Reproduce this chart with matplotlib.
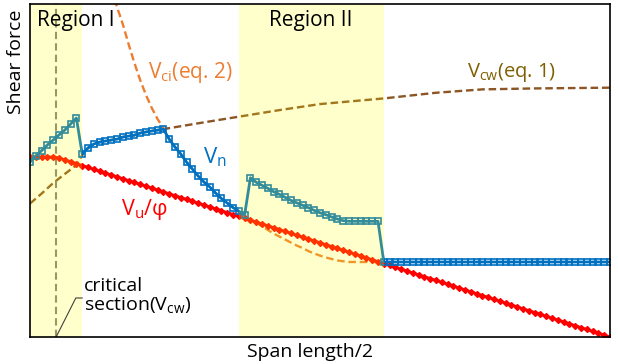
import matplotlib
matplotlib.use('Agg')
import matplotlib.pyplot as plt
import numpy as np

plt.rcParams['font.family'] = ['Open Sans', 'DejaVu Sans']
plt.rcParams['mathtext.fontset'] = 'custom'
plt.rcParams['mathtext.rm'] = 'Open Sans'
plt.rcParams['mathtext.it'] = 'Open Sans'

# stations along half span (0 = support, 100 = midspan)
stations = list(range(0, 101))

# required strength Vu/phi
vu_phi = [95.5, 95.5, 95.5, 95.5, 95.5,
          95, 94, 93, 92, 91, 90, 89, 88, 87, 86, 85, 84, 83, 82, 81,
          80, 79, 78, 77, 76, 75, 74, 73, 72, 71, 70, 69, 68, 67, 66,
          65, 64, 63, 62, 61, 60, 59, 58, 57, 56, 55, 54, 53, 52, 51,
          50, 49, 48, 47, 46, 45, 44, 43, 42, 41, 40, 39, 38, 37, 36,
          35, 34, 33, 32, 31, 30, 29, 28, 27, 26, 25, 24, 23, 22, 21,
          20, 19, 18, 17, 16, 15, 14, 13, 12, 11, 10, 9, 8, 7, 6,
          5, 4, 3, 2, 1, 0]

# nominal strength Vn
vn = [92.8, 96.0, 98.9, 101.9, 104.5, 107.2, 109.8, 113.0, 116.2, 97.1,
      100.3, 102.4, 103.4, 104.0, 104.5, 105.0, 106.1, 106.6, 107.1, 108.2,
      108.8, 109.3, 109.8, 110.3, 105.0, 100.8, 97.1, 92.8, 89.1, 85.4,
      82.2, 79.6, 76.4, 73.5, 71.1, 68.7, 66.8, 64.7, 84.5, 82.1,
      80.5, 78.9, 77.1, 75.7, 74.1, 72.5, 71.2, 69.9, 68.6, 67.2,
      65.9, 64.9, 63.7, 62.6, 61.7, 61.4, 61.4, 61.4, 61.4, 61.4,
      61.4] + [39.8] * 40

# Vci (eq. 2)
vci_x = list(range(14, 62))
vci = [186.0, 175.1, 166.0, 155.4, 145.4, 136.3, 128.4, 121.5, 115.6, 110.9,
       105.0, 100.8, 97.1, 92.8, 89.1, 85.4, 82.2, 79.6, 76.4, 73.5,
       71.1, 68.7, 66.3, 63.7, 61.8, 60.5, 58.9, 56.8, 54.9, 53.3,
       51.7, 50.1, 48.5, 47.2, 45.6, 44.3, 43.2, 42.2, 41.4, 40.6,
       40.2, 39.8, 39.8, 39.8, 39.8, 39.8, 39.8, 39.8]

# Vcw (eq. 1)
vcw_x = [0, 2, 4, 6, 8, 9, 10, 11, 12, 13, 14, 15, 16, 17, 18, 19, 20, 21, 22, 23,
         29, 36, 43, 50, 61, 70, 78, 87, 100]
vcw = [70.8, 76.1, 81.7, 86.5, 91.2, 96.5, 100.3, 102.4, 103.4, 104.0, 104.5, 105.0,
       106.1, 106.6, 107.1, 108.2, 108.8, 109.3, 109.8, 110.3,
       113.4, 116.9, 120.4, 123.6, 126.6, 129.6, 131.4, 131.9, 132.3]

region1 = (0, 9)
region2 = (36, 61)
crit_x = 4.5

fig = plt.figure(figsize=(6.18, 3.64), dpi=100)
ax = fig.add_axes([30/618, 1-337/364, 580/618, 333/364])

dash = (0, (3.2, 1.6))
ax.plot(vcw_x, vcw, color='#8C5523', lw=1.7, ls=dash, zorder=2)
ax.plot(vci_x, vci, color='#ED7D31', lw=1.7, ls=dash, zorder=2)
ax.plot(stations, vu_phi, color='#FF0000', lw=2, marker='D', ms=3, zorder=3)
ax.plot(stations, vn, color='#0070C0', lw=2, marker='s', ms=4.3, mfc='none',
        mew=1.2, zorder=4)
ax.axvline(crit_x, color='#7F7F7F', lw=1.5, ls=(0, (3.5, 2)), zorder=2)

# translucent yellow regions over the lines
ax.axvspan(*region1, color='#FFFF00', alpha=0.2, lw=0, zorder=5)
ax.axvspan(*region2, color='#FFFF00', alpha=0.2, lw=0, zorder=5)

ax.set_xlim(0, 100)
ax.set_ylim(0, 176.7)
ax.set_xticks([])
ax.set_yticks([])
for s in ax.spines.values():
    s.set_linewidth(1.2)
    s.set_zorder(10)

ax.text(7.9, 168, 'Region I', fontsize=15, ha='center', va='center', zorder=6)
ax.text(48.4, 168, 'Region II', fontsize=15, ha='center', va='center', zorder=6)
ax.text(27.6, 140.5, r'V$_{ci}$(eq. 2)', fontsize=15, color='#ED7D31',
        ha='center', va='center', zorder=6)
ax.text(83.1, 140.5, r'V$_{cw}$(eq. 1)', fontsize=14.5, color='#7F6000',
        ha='center', va='center', zorder=6)
ax.text(31.8, 95.5, r'V$_{n}$', fontsize=16, color='#0070C0',
        ha='center', va='center', zorder=6)
ax.text(19.8, 67.5, r'V$_{u}$/φ', fontsize=15.5, color='#FF0000',
        ha='center', va='center', zorder=6)
ax.text(9.3, 21.5, 'critical\n' + r'section(V$_{cw}$)', fontsize=14,
        ha='left', va='center', linespacing=1.0, zorder=6)
ax.plot([crit_x, 7.9, 9.0], [0, 20.7, 20.7], color='#404040', lw=0.8, zorder=6)

fig.text(16/618, 1-62/364, 'Shear force', rotation=90, fontsize=14,
         ha='center', va='center')
fig.text(310/618, 1-352/364, 'Span length/2', fontsize=14,
         ha='center', va='center')

fig.savefig('out.png', dpi=100)
